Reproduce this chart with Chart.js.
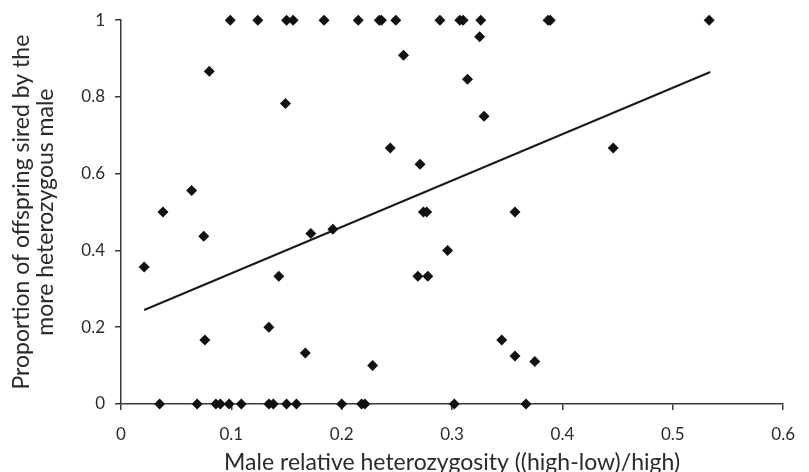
<!DOCTYPE html>
<html>
<head>
<meta charset="utf-8">
<script src="https://cdn.jsdelivr.net/npm/chart.js@4.4.1/dist/chart.umd.min.js"></script>
<style>
  html, body { margin: 0; padding: 0; background: #ffffff; }
  #wrap { width: 809px; height: 472px; }
</style>
</head>
<body>
<div id="wrap"><canvas id="c" width="809" height="472"></canvas></div>
<script>
// Male relative heterozygosity ((high-low)/high)
const heteroX = [
  0.099, 0.124, 0.150, 0.156, 0.184, 0.215, 0.234, 0.236, 0.249, 0.289, 0.307, 0.310, 0.326, 0.387, 0.389, 0.533,
  0.035, 0.069, 0.086, 0.090, 0.098, 0.109, 0.134, 0.138, 0.150, 0.159, 0.200, 0.218, 0.221, 0.302, 0.367,
  0.021, 0.038, 0.064, 0.075, 0.076, 0.080, 0.134, 0.143, 0.149, 0.167, 0.172, 0.192, 0.228, 0.244, 0.256,
  0.269, 0.271, 0.274, 0.277, 0.278, 0.296, 0.314, 0.325, 0.329, 0.345, 0.357, 0.357, 0.375, 0.446
];
// Proportion of offspring sired by the more heterozygous male
const siredProp = [
  1, 1, 1, 1, 1, 1, 1, 1, 1, 1, 1, 1, 1, 1, 1, 1,
  0, 0, 0, 0, 0, 0, 0, 0, 0, 0, 0, 0, 0, 0, 0,
  0.357, 0.500, 0.556, 0.437, 0.167, 0.867, 0.200, 0.333, 0.783, 0.133, 0.444, 0.455, 0.100, 0.667, 0.909,
  0.333, 0.625, 0.500, 0.500, 0.333, 0.400, 0.846, 0.957, 0.750, 0.167, 0.125, 0.500, 0.111, 0.667
];
// Linear trend line end points
const trendX = [0.021, 0.534];
const trendY = [0.245, 0.865];
// Tick labels
const xTickLabels = ['0', '0.1', '0.2', '0.3', '0.4', '0.5', '0.6'];
const yTickLabels = ['0', '0.2', '0.4', '0.6', '0.8', '1'];

const scatterData = heteroX.map((x, i) => ({ x: x, y: siredProp[i] }));
const trendData = trendX.map((x, i) => ({ x: x, y: trendY[i] }));

const FONT = "Lato, 'Liberation Sans', Arial, sans-serif";
const TXT = '#2b2b2b';
const AXIS = '#3a3a3a';

new Chart(document.getElementById('c'), {
  type: 'scatter',
  data: {
    datasets: [
      {
        label: 'Trend',
        type: 'line',
        data: trendData,
        borderColor: '#1a1a1a',
        borderWidth: 2,
        pointRadius: 0,
        fill: false,
        tension: 0,
        order: 2
      },
      {
        label: 'Pairs',
        data: scatterData,
        pointStyle: 'rectRot',
        pointRadius: 5.5,
        pointHoverRadius: 5.5,
        backgroundColor: '#111111',
        borderColor: '#111111',
        borderWidth: 0,
        order: 1
      }
    ]
  },
  options: {
    responsive: false,
    animation: false,
    clip: false,
    events: [],
    layout: { padding: { top: 20, right: 14, left: 0, bottom: 0 } },
    plugins: {
      legend: { display: false },
      tooltip: { enabled: false }
    },
    scales: {
      x: {
        type: 'linear',
        min: 0,
        max: 0.6,
        afterFit: (s) => { s.height = 68; },
        border: { display: true, color: AXIS, width: 1.5 },
        grid: { display: true, drawOnChartArea: false, drawTicks: true, tickLength: 6, color: AXIS, lineWidth: 1.5 },
        ticks: {
          stepSize: 0.1,
          padding: 14,
          color: TXT,
          font: { family: FONT, size: 17 },
          maxRotation: 0,
          callback: (v, i) => xTickLabels[i]
        },
        title: {
          display: true,
          text: 'Male relative heterozygosity ((high-low)/high)',
          color: TXT,
          font: { family: FONT, size: 23, lineHeight: 0.85 },
          padding: { top: 0, bottom: 0 }
        }
      },
      y: {
        type: 'linear',
        min: 0,
        max: 1,
        afterFit: (s) => { s.width = 121; },
        border: { display: true, color: AXIS, width: 1.5 },
        grid: { display: true, drawOnChartArea: false, drawTicks: true, tickLength: 6, color: AXIS, lineWidth: 1.5 },
        ticks: {
          stepSize: 0.2,
          padding: 10,
          color: TXT,
          font: { family: FONT, size: 17 },
          callback: (v, i) => yTickLabels[i]
        },
        title: {
          display: true,
          text: ['Proportion of offspring sired by the', 'more heterozygous male'],
          color: TXT,
          font: { family: FONT, size: 23, lineHeight: 1.04 },
          padding: { top: 10, bottom: 0 }
        }
      }
    }
  }
});
</script>
</body>
</html>
